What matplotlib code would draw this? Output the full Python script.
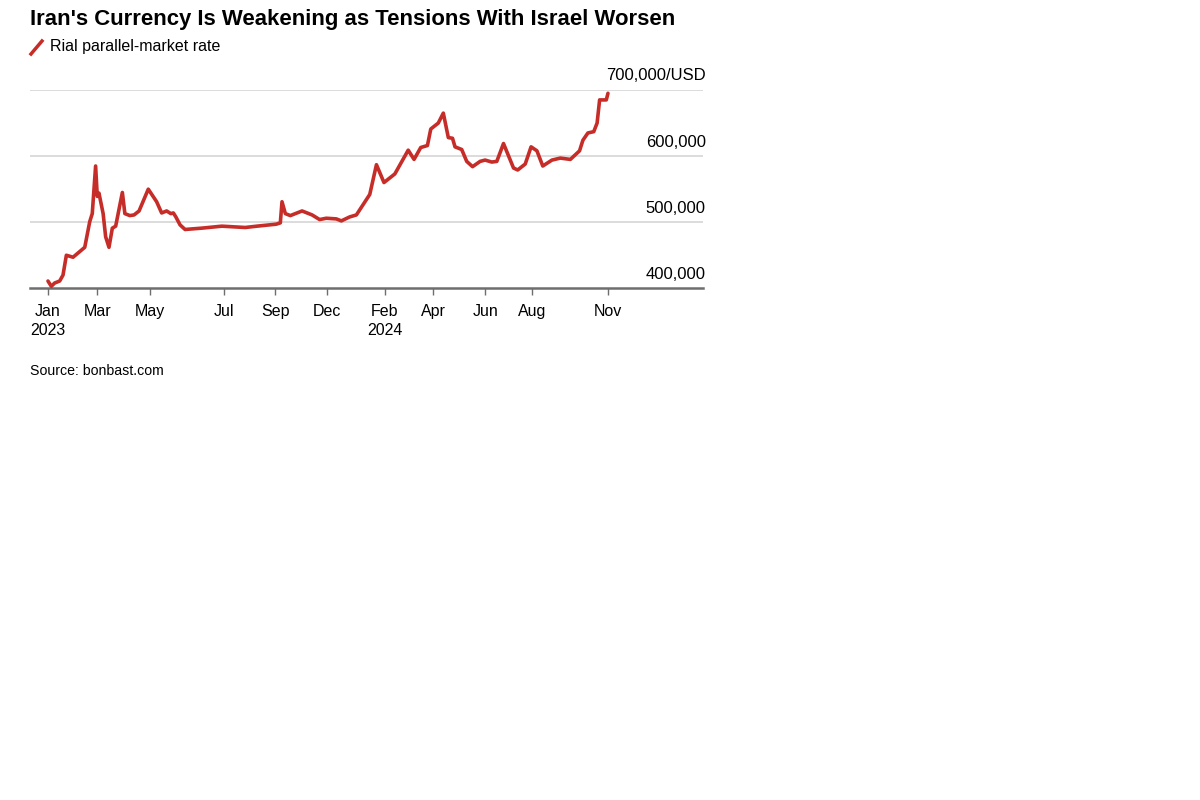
import matplotlib
matplotlib.use('agg')
import matplotlib.pyplot as plt
from matplotlib import font_manager
from matplotlib.lines import Line2D

# Rial parallel-market rate
# days since 2023-01-01
days = [0, 4, 8, 14, 18, 22, 30, 44, 50, 53, 57, 59, 61, 66, 69, 73, 77, 81,
        89, 92, 98, 103, 109, 120, 130, 136, 142, 147, 150, 153, 158, 164,
        184, 208, 236, 250, 273, 278, 280, 284, 290, 304, 316, 325, 333, 345,
        351, 361, 369, 385, 393, 402, 415, 431, 438, 446, 454, 458, 467, 473,
        479, 484, 487, 495, 501, 508, 517, 523, 531, 537, 545, 557, 562, 571,
        578, 585, 592, 603, 613, 625, 636, 640, 646, 653, 657, 660, 668, 670]
rate = [411000, 403000, 408000, 411000, 420000, 450000, 447000, 462000,
        501000, 513000, 585000, 539000, 544000, 513000, 478000, 462000,
        491000, 494000, 545000, 513000, 510000, 511000, 517000, 550000,
        531000, 514000, 517000, 513000, 514000, 508000, 496000, 489000,
        491000, 494000, 492000, 494000, 497000, 499000, 531000, 513000,
        510000, 517000, 511000, 504000, 506000, 505000, 502000, 508000,
        511000, 542000, 587000, 560000, 573000, 609000, 595000, 613000,
        616000, 641000, 650000, 665000, 628000, 627000, 614000, 610000,
        592000, 584000, 592000, 594000, 591000, 592000, 619000, 582000,
        579000, 588000, 614000, 608000, 585000, 594000, 597000, 595000,
        608000, 624000, 635000, 637000, 650000, 685000, 685000, 695000]

tick_days = [0, 59, 122, 211, 272, 334, 403, 461, 523, 579, 670]
tick_labels = ['Jan\n2023', 'Mar', 'May', 'Jul', 'Sep', 'Dec', 'Feb\n2024',
               'Apr', 'Jun', 'Aug', 'Nov']
y_levels = [400000, 500000, 600000, 700000]
y_labels = ['400,000', '500,000', '600,000', '700,000/USD']

available = {f.name for f in font_manager.fontManager.ttflist}
narrow = 'Liberation Sans Narrow' if 'Liberation Sans Narrow' in available else 'Liberation Sans'
plt.rcParams['font.family'] = ['Liberation Sans', 'DejaVu Sans']

RED = '#c62d28'
GRID = '#d9d9d9'
AXIS = '#6e6e6e'

fig = plt.figure(figsize=(12, 8), dpi=100)
ax = fig.add_axes([30 / 1200, 1 - 288.3 / 800, 673 / 1200, (288.3 - 90) / 800])

ax.plot(days, rate, color=RED, lw=2.6, solid_joinstyle='round',
        solid_capstyle='round', clip_on=False, zorder=3)

ax.set_xlim(-21.5, 783.7)
ax.set_ylim(400000, 700000)
for lvl in y_levels[1:]:
    ax.axhline(lvl, color=GRID, lw=1.3, zorder=1)
for s in ['top', 'right', 'left']:
    ax.spines[s].set_visible(False)
ax.spines['bottom'].set_color(AXIS)
ax.spines['bottom'].set_linewidth(1.8)

ax.set_yticks([])
ax.set_xticks(tick_days)
ax.set_xticklabels(tick_labels, fontsize=11.5, color='black', linespacing=1.35)
ax.tick_params(axis='x', length=5, width=1, color=AXIS, pad=6)

for lvl, lab in zip(y_levels, y_labels):
    ax.annotate(lab, xy=(1, lvl), xycoords=('axes fraction', 'data'),
                xytext=(2, 4.7), textcoords='offset points',
                ha='right', va='bottom', fontsize=12, color='black')

fig.text(30 / 1200, 1 - 19 / 800, "Iran's Currency Is Weakening as Tensions With Israel Worsen",
         family=[narrow, 'DejaVu Sans'], fontweight='bold', fontsize=15.9,
         ha='left', va='center')
fig.add_artist(Line2D([31 / 1200, 42 / 1200], [1 - 54 / 800, 1 - 41 / 800],
                      color=RED, lw=2.5, transform=fig.transFigure))
fig.text(50 / 1200, 1 - 47 / 800, 'Rial parallel-market rate',
         family=[narrow, 'DejaVu Sans'], fontsize=11.5, ha='left', va='center')
fig.text(30 / 1200, 1 - 371 / 800, 'Source: bonbast.com',
         family=[narrow, 'DejaVu Sans'], fontsize=10.2, ha='left', va='center')

fig.savefig('out.png', dpi=100)
